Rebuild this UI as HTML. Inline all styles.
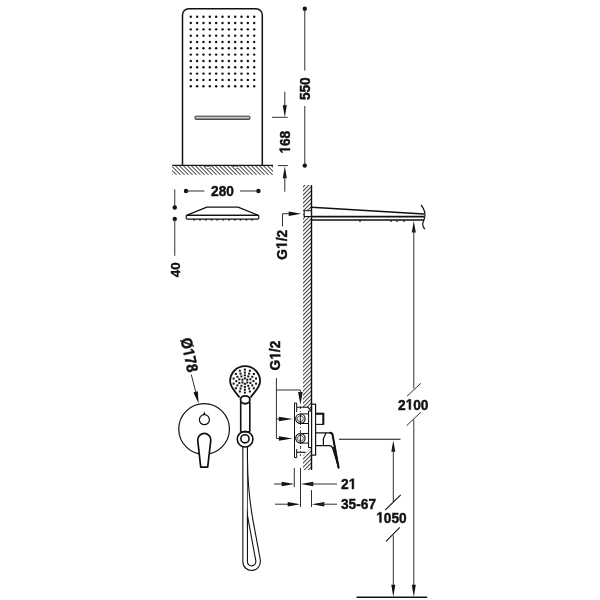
<!DOCTYPE html>
<html><head><meta charset="utf-8"><style>
html,body{margin:0;padding:0;background:#fff;width:600px;height:600px;overflow:hidden}
svg{display:block;will-change:transform}
text{font-family:"Liberation Sans",sans-serif;font-weight:bold;fill:#111}
</style></head><body>
<svg width="600" height="600" viewBox="0 0 600 600">
<rect width="600" height="600" fill="#fff"/>
<defs>
<pattern id="hg" patternUnits="userSpaceOnUse" width="2.83" height="2.83" patternTransform="rotate(-45)"><line x1="0" y1="0" x2="0" y2="2.83" stroke="#000" stroke-width="1.45"/></pattern>
<pattern id="hw" patternUnits="userSpaceOnUse" width="2.83" height="2.83" patternTransform="rotate(45)"><line x1="0" y1="0" x2="0" y2="2.83" stroke="#000" stroke-width="1.45"/></pattern>
<linearGradient id="sg" x1="0" y1="0" x2="0" y2="1"><stop offset="0" stop-color="#fff"/><stop offset="1" stop-color="#888"/></linearGradient>
</defs>
<path d="M182.5,165.5 V15.0 A6.3,6.3 0 0 1 188.8,8.7 H256.0 A6.3,6.3 0 0 1 262.3,15.0 V165.5" fill="none" stroke="#111" stroke-width="1.5"/>
<circle cx="190.80" cy="16.70" r="1.2" fill="#111"/>
<circle cx="190.80" cy="23.02" r="1.2" fill="#111"/>
<circle cx="190.80" cy="29.34" r="1.2" fill="#111"/>
<circle cx="190.80" cy="35.66" r="1.2" fill="#111"/>
<circle cx="190.80" cy="41.98" r="1.2" fill="#111"/>
<circle cx="190.80" cy="48.30" r="1.2" fill="#111"/>
<circle cx="190.80" cy="54.62" r="1.2" fill="#111"/>
<circle cx="190.80" cy="60.94" r="1.2" fill="#111"/>
<circle cx="190.80" cy="67.26" r="1.2" fill="#111"/>
<circle cx="190.80" cy="73.58" r="1.2" fill="#111"/>
<circle cx="190.80" cy="79.90" r="1.2" fill="#111"/>
<circle cx="190.80" cy="86.22" r="1.2" fill="#111"/>
<circle cx="197.14" cy="16.70" r="1.2" fill="#111"/>
<circle cx="197.14" cy="23.02" r="1.2" fill="#111"/>
<circle cx="197.14" cy="29.34" r="1.2" fill="#111"/>
<circle cx="197.14" cy="35.66" r="1.2" fill="#111"/>
<circle cx="197.14" cy="41.98" r="1.2" fill="#111"/>
<circle cx="197.14" cy="48.30" r="1.2" fill="#111"/>
<circle cx="197.14" cy="54.62" r="1.2" fill="#111"/>
<circle cx="197.14" cy="60.94" r="1.2" fill="#111"/>
<circle cx="197.14" cy="67.26" r="1.2" fill="#111"/>
<circle cx="197.14" cy="73.58" r="1.2" fill="#111"/>
<circle cx="197.14" cy="79.90" r="1.2" fill="#111"/>
<circle cx="197.14" cy="86.22" r="1.2" fill="#111"/>
<circle cx="203.48" cy="16.70" r="1.2" fill="#111"/>
<circle cx="203.48" cy="23.02" r="1.2" fill="#111"/>
<circle cx="203.48" cy="29.34" r="1.2" fill="#111"/>
<circle cx="203.48" cy="35.66" r="1.2" fill="#111"/>
<circle cx="203.48" cy="41.98" r="1.2" fill="#111"/>
<circle cx="203.48" cy="48.30" r="1.2" fill="#111"/>
<circle cx="203.48" cy="54.62" r="1.2" fill="#111"/>
<circle cx="203.48" cy="60.94" r="1.2" fill="#111"/>
<circle cx="203.48" cy="67.26" r="1.2" fill="#111"/>
<circle cx="203.48" cy="73.58" r="1.2" fill="#111"/>
<circle cx="203.48" cy="79.90" r="1.2" fill="#111"/>
<circle cx="203.48" cy="86.22" r="1.2" fill="#111"/>
<circle cx="209.82" cy="16.70" r="1.2" fill="#111"/>
<circle cx="209.82" cy="23.02" r="1.2" fill="#111"/>
<circle cx="209.82" cy="29.34" r="1.2" fill="#111"/>
<circle cx="209.82" cy="35.66" r="1.2" fill="#111"/>
<circle cx="209.82" cy="41.98" r="1.2" fill="#111"/>
<circle cx="209.82" cy="48.30" r="1.2" fill="#111"/>
<circle cx="209.82" cy="54.62" r="1.2" fill="#111"/>
<circle cx="209.82" cy="60.94" r="1.2" fill="#111"/>
<circle cx="209.82" cy="67.26" r="1.2" fill="#111"/>
<circle cx="209.82" cy="73.58" r="1.2" fill="#111"/>
<circle cx="209.82" cy="79.90" r="1.2" fill="#111"/>
<circle cx="209.82" cy="86.22" r="1.2" fill="#111"/>
<circle cx="216.16" cy="16.70" r="1.2" fill="#111"/>
<circle cx="216.16" cy="23.02" r="1.2" fill="#111"/>
<circle cx="216.16" cy="29.34" r="1.2" fill="#111"/>
<circle cx="216.16" cy="35.66" r="1.2" fill="#111"/>
<circle cx="216.16" cy="41.98" r="1.2" fill="#111"/>
<circle cx="216.16" cy="48.30" r="1.2" fill="#111"/>
<circle cx="216.16" cy="54.62" r="1.2" fill="#111"/>
<circle cx="216.16" cy="60.94" r="1.2" fill="#111"/>
<circle cx="216.16" cy="67.26" r="1.2" fill="#111"/>
<circle cx="216.16" cy="73.58" r="1.2" fill="#111"/>
<circle cx="216.16" cy="79.90" r="1.2" fill="#111"/>
<circle cx="216.16" cy="86.22" r="1.2" fill="#111"/>
<circle cx="222.50" cy="16.70" r="1.2" fill="#111"/>
<circle cx="222.50" cy="23.02" r="1.2" fill="#111"/>
<circle cx="222.50" cy="29.34" r="1.2" fill="#111"/>
<circle cx="222.50" cy="35.66" r="1.2" fill="#111"/>
<circle cx="222.50" cy="41.98" r="1.2" fill="#111"/>
<circle cx="222.50" cy="48.30" r="1.2" fill="#111"/>
<circle cx="222.50" cy="54.62" r="1.2" fill="#111"/>
<circle cx="222.50" cy="60.94" r="1.2" fill="#111"/>
<circle cx="222.50" cy="67.26" r="1.2" fill="#111"/>
<circle cx="222.50" cy="73.58" r="1.2" fill="#111"/>
<circle cx="222.50" cy="79.90" r="1.2" fill="#111"/>
<circle cx="222.50" cy="86.22" r="1.2" fill="#111"/>
<circle cx="228.84" cy="16.70" r="1.2" fill="#111"/>
<circle cx="228.84" cy="23.02" r="1.2" fill="#111"/>
<circle cx="228.84" cy="29.34" r="1.2" fill="#111"/>
<circle cx="228.84" cy="35.66" r="1.2" fill="#111"/>
<circle cx="228.84" cy="41.98" r="1.2" fill="#111"/>
<circle cx="228.84" cy="48.30" r="1.2" fill="#111"/>
<circle cx="228.84" cy="54.62" r="1.2" fill="#111"/>
<circle cx="228.84" cy="60.94" r="1.2" fill="#111"/>
<circle cx="228.84" cy="67.26" r="1.2" fill="#111"/>
<circle cx="228.84" cy="73.58" r="1.2" fill="#111"/>
<circle cx="228.84" cy="79.90" r="1.2" fill="#111"/>
<circle cx="228.84" cy="86.22" r="1.2" fill="#111"/>
<circle cx="235.18" cy="16.70" r="1.2" fill="#111"/>
<circle cx="235.18" cy="23.02" r="1.2" fill="#111"/>
<circle cx="235.18" cy="29.34" r="1.2" fill="#111"/>
<circle cx="235.18" cy="35.66" r="1.2" fill="#111"/>
<circle cx="235.18" cy="41.98" r="1.2" fill="#111"/>
<circle cx="235.18" cy="48.30" r="1.2" fill="#111"/>
<circle cx="235.18" cy="54.62" r="1.2" fill="#111"/>
<circle cx="235.18" cy="60.94" r="1.2" fill="#111"/>
<circle cx="235.18" cy="67.26" r="1.2" fill="#111"/>
<circle cx="235.18" cy="73.58" r="1.2" fill="#111"/>
<circle cx="235.18" cy="79.90" r="1.2" fill="#111"/>
<circle cx="235.18" cy="86.22" r="1.2" fill="#111"/>
<circle cx="241.52" cy="16.70" r="1.2" fill="#111"/>
<circle cx="241.52" cy="23.02" r="1.2" fill="#111"/>
<circle cx="241.52" cy="29.34" r="1.2" fill="#111"/>
<circle cx="241.52" cy="35.66" r="1.2" fill="#111"/>
<circle cx="241.52" cy="41.98" r="1.2" fill="#111"/>
<circle cx="241.52" cy="48.30" r="1.2" fill="#111"/>
<circle cx="241.52" cy="54.62" r="1.2" fill="#111"/>
<circle cx="241.52" cy="60.94" r="1.2" fill="#111"/>
<circle cx="241.52" cy="67.26" r="1.2" fill="#111"/>
<circle cx="241.52" cy="73.58" r="1.2" fill="#111"/>
<circle cx="241.52" cy="79.90" r="1.2" fill="#111"/>
<circle cx="241.52" cy="86.22" r="1.2" fill="#111"/>
<circle cx="247.86" cy="16.70" r="1.2" fill="#111"/>
<circle cx="247.86" cy="23.02" r="1.2" fill="#111"/>
<circle cx="247.86" cy="29.34" r="1.2" fill="#111"/>
<circle cx="247.86" cy="35.66" r="1.2" fill="#111"/>
<circle cx="247.86" cy="41.98" r="1.2" fill="#111"/>
<circle cx="247.86" cy="48.30" r="1.2" fill="#111"/>
<circle cx="247.86" cy="54.62" r="1.2" fill="#111"/>
<circle cx="247.86" cy="60.94" r="1.2" fill="#111"/>
<circle cx="247.86" cy="67.26" r="1.2" fill="#111"/>
<circle cx="247.86" cy="73.58" r="1.2" fill="#111"/>
<circle cx="247.86" cy="79.90" r="1.2" fill="#111"/>
<circle cx="247.86" cy="86.22" r="1.2" fill="#111"/>
<circle cx="254.20" cy="16.70" r="1.2" fill="#111"/>
<circle cx="254.20" cy="23.02" r="1.2" fill="#111"/>
<circle cx="254.20" cy="29.34" r="1.2" fill="#111"/>
<circle cx="254.20" cy="35.66" r="1.2" fill="#111"/>
<circle cx="254.20" cy="41.98" r="1.2" fill="#111"/>
<circle cx="254.20" cy="48.30" r="1.2" fill="#111"/>
<circle cx="254.20" cy="54.62" r="1.2" fill="#111"/>
<circle cx="254.20" cy="60.94" r="1.2" fill="#111"/>
<circle cx="254.20" cy="67.26" r="1.2" fill="#111"/>
<circle cx="254.20" cy="73.58" r="1.2" fill="#111"/>
<circle cx="254.20" cy="79.90" r="1.2" fill="#111"/>
<circle cx="254.20" cy="86.22" r="1.2" fill="#111"/>
<rect x="195" y="116.2" width="55" height="3.1" rx="0.9" fill="url(#sg)" stroke="#111" stroke-width="0.9"/>
<g transform="translate(1,0)"><rect x="171.2" y="165.8" width="100.8" height="9" fill="url(#hg)"/></g>
<rect x="205.4" y="166.4" width="4.8" height="2.4" fill="#fff" stroke="#555" stroke-width="0.6"/>
<rect x="233.3" y="166.4" width="4.6" height="2.4" fill="#fff" stroke="#555" stroke-width="0.6"/>
<line x1="172.2" y1="165.3" x2="273" y2="165.3" stroke="#1a1a1a" stroke-width="1.2" />
<circle cx="304.8" cy="8.7" r="2.2" fill="#111"/>
<line x1="304.8" y1="8.7" x2="304.8" y2="70.6" stroke="#303030" stroke-width="1" />
<line x1="304.8" y1="106" x2="304.8" y2="165.6" stroke="#303030" stroke-width="1" />
<circle cx="304.8" cy="165.6" r="2.2" fill="#111"/>
<g transform="translate(310.3,88.7) rotate(-90) scale(1,1.1)"><text text-anchor="middle" font-size="13.7" stroke="#111" stroke-width="0.4">550</text></g>
<line x1="284.8" y1="91.7" x2="284.8" y2="110" stroke="#303030" stroke-width="1" />
<polygon points="284.8,117.2 282.80,105.20 286.80,105.20" fill="#111"/>
<line x1="272" y1="117.3" x2="287.7" y2="117.3" stroke="#303030" stroke-width="1" />
<g transform="translate(290.0,142.2) rotate(-90) scale(1,1.1)"><text text-anchor="middle" font-size="13.7" stroke="#111" stroke-width="0.4"> 68</text><path transform="translate(-11.429,0) scale(0.00669,-0.00669)" d="M500,0 V1170 L162,959 V1180 L515,1409 H781 V0 Z" fill="#111" stroke="#111" stroke-width="59.8"/></g>
<line x1="277.9" y1="165.6" x2="287.9" y2="165.6" stroke="#303030" stroke-width="1" />
<polygon points="284.8,166.2 286.80,178.20 282.80,178.20" fill="#111"/>
<line x1="284.8" y1="175" x2="284.8" y2="191.7" stroke="#303030" stroke-width="1" />
<circle cx="186" cy="191" r="2.2" fill="#111"/>
<line x1="186" y1="191" x2="204.4" y2="191" stroke="#303030" stroke-width="1" />
<circle cx="258.4" cy="191" r="2.2" fill="#111"/>
<line x1="240" y1="191" x2="258.4" y2="191" stroke="#303030" stroke-width="1" />
<g transform="translate(222.5,196) rotate(0) scale(1,1.1)"><text text-anchor="middle" font-size="13.7" stroke="#111" stroke-width="0.4">280</text></g>
<path d="M186.4,215.4 L206.9,207.1 H238.1 L258.6,215.4 Z" fill="#fff" stroke="#111" stroke-width="1.2" stroke-linejoin="round"/>
<rect x="186.2" y="215.4" width="72.6" height="3.8" rx="1.2" fill="#fff" stroke="#111" stroke-width="1.2"/>
<rect x="193.30" y="219.3" width="1.8" height="1.2" fill="#111"/>
<rect x="199.10" y="219.3" width="1.8" height="1.2" fill="#111"/>
<rect x="204.90" y="219.3" width="1.8" height="1.2" fill="#111"/>
<rect x="210.70" y="219.3" width="1.8" height="1.2" fill="#111"/>
<rect x="216.50" y="219.3" width="1.8" height="1.2" fill="#111"/>
<rect x="222.30" y="219.3" width="1.8" height="1.2" fill="#111"/>
<rect x="228.10" y="219.3" width="1.8" height="1.2" fill="#111"/>
<rect x="233.90" y="219.3" width="1.8" height="1.2" fill="#111"/>
<rect x="239.70" y="219.3" width="1.8" height="1.2" fill="#111"/>
<rect x="245.50" y="219.3" width="1.8" height="1.2" fill="#111"/>
<rect x="251.30" y="219.3" width="1.8" height="1.2" fill="#111"/>
<line x1="174.75" y1="189.3" x2="174.75" y2="207.5" stroke="#303030" stroke-width="1" />
<circle cx="174.75" cy="207.5" r="2.2" fill="#111"/>
<circle cx="174.75" cy="218.9" r="2.2" fill="#111"/>
<line x1="174.75" y1="218.9" x2="174.75" y2="255.8" stroke="#303030" stroke-width="1" />
<g transform="translate(180.2,269.8) rotate(-90) scale(1,0.97)"><text text-anchor="middle" font-size="13.4" stroke="#111" stroke-width="0.4">40</text></g>
<g transform="translate(0,1.1)"><rect x="303" y="183.9" width="8.4" height="285" fill="url(#hw)"/></g>
<path d="M296.7,407.3 H308 L311.4,411 V447.5 L303,455.5 V407.3 Z" fill="#fff"/>
<line x1="311.5" y1="185" x2="311.5" y2="470" stroke="#111" stroke-width="1.4" />
<path d="M311.5,207.3 L424,214" stroke="#111" stroke-width="1.4" fill="none"/>
<line x1="311.5" y1="216.6" x2="424" y2="216.6" stroke="#111" stroke-width="1.6" />
<line x1="311.5" y1="220" x2="424" y2="220" stroke="#111" stroke-width="1.6" />
<rect x="304.2" y="210.7" width="7.1" height="5.8" fill="#fff" stroke="#111" stroke-width="1"/>
<path d="M421,205 Q427,212 424,220 Q421,226 425,229" fill="none" stroke="#111" stroke-width="1.2"/>
<rect x="359.1" y="220.5" width="1.8" height="1.2" fill="#111"/>
<rect x="390.1" y="220.5" width="1.8" height="1.2" fill="#111"/>
<rect x="396.1" y="220.5" width="1.8" height="1.2" fill="#111"/>
<rect x="403.1" y="220.5" width="1.8" height="1.2" fill="#111"/>
<polygon points="301.2,213.7 288.70,216.00 288.70,211.40" fill="#111"/>
<line x1="282.5" y1="213.7" x2="290" y2="213.7" stroke="#303030" stroke-width="1" />
<line x1="282.5" y1="213.7" x2="282.5" y2="226.4" stroke="#303030" stroke-width="1" />
<g transform="translate(286.8,244.8) rotate(-90) scale(1,1.1)"><text text-anchor="middle" font-size="13.7" stroke="#111" stroke-width="0.4">G /2</text><path transform="translate(-4.194,0) scale(0.00669,-0.00669)" d="M500,0 V1170 L162,959 V1180 L515,1409 H781 V0 Z" fill="#111" stroke="#111" stroke-width="59.8"/></g>
<polygon points="413.8,221 415.80,232.50 411.80,232.50" fill="#111"/>
<line x1="413.8" y1="230" x2="413.8" y2="388.7" stroke="#303030" stroke-width="1" />
<line x1="407" y1="396.3" x2="420.7" y2="383.3" stroke="#303030" stroke-width="1" />
<g transform="translate(413.2,409.6) rotate(0) scale(1,1.1)"><text text-anchor="middle" font-size="13.7" stroke="#111" stroke-width="0.4">2 00</text><path transform="translate(-7.619,0) scale(0.00669,-0.00669)" d="M500,0 V1170 L162,959 V1180 L515,1409 H781 V0 Z" fill="#111" stroke="#111" stroke-width="59.8"/></g>
<line x1="406.7" y1="425.6" x2="420.7" y2="412.3" stroke="#303030" stroke-width="1" />
<line x1="413.8" y1="419.5" x2="413.8" y2="590" stroke="#303030" stroke-width="1" />
<polygon points="413.8,597 411.80,584.70 415.80,584.70" fill="#111"/>
<line x1="339" y1="439.3" x2="400.5" y2="439.3" stroke="#111" stroke-width="1.1" />
<polygon points="393.3,440.5 395.30,451.80 391.30,451.80" fill="#111"/>
<line x1="393.3" y1="448" x2="393.3" y2="502" stroke="#303030" stroke-width="1" />
<line x1="385.1" y1="510.2" x2="400.7" y2="494.8" stroke="#111" stroke-width="1.1" />
<g transform="translate(391.4,522.6) rotate(0) scale(1,1.1)"><text text-anchor="middle" font-size="13.7" stroke="#111" stroke-width="0.4"> 050</text><path transform="translate(-15.239,0) scale(0.00669,-0.00669)" d="M500,0 V1170 L162,959 V1180 L515,1409 H781 V0 Z" fill="#111" stroke="#111" stroke-width="59.8"/></g>
<line x1="386" y1="541.4" x2="399.8" y2="527.4" stroke="#111" stroke-width="1.1" />
<line x1="393.3" y1="535.3" x2="393.3" y2="590" stroke="#303030" stroke-width="1" />
<polygon points="393.3,597 391.30,584.70 395.30,584.70" fill="#111"/>
<line x1="356.5" y1="597.3" x2="427.2" y2="597.3" stroke="#111" stroke-width="1.5" />
<line x1="294.3" y1="468" x2="294.3" y2="487" stroke="#303030" stroke-width="1" />
<line x1="300.5" y1="468" x2="300.5" y2="507" stroke="#303030" stroke-width="1" />
<line x1="311.5" y1="490" x2="311.5" y2="507" stroke="#303030" stroke-width="1" />
<line x1="274" y1="484" x2="285" y2="484" stroke="#303030" stroke-width="1" />
<polygon points="294.2,484 281.70,486.20 281.70,481.80" fill="#111"/>
<polygon points="300.8,484 313.30,481.80 313.30,486.20" fill="#111"/>
<line x1="310" y1="484" x2="337" y2="484" stroke="#303030" stroke-width="1" />
<g transform="translate(341,489) rotate(0) scale(1,1.1)"><text text-anchor="start" font-size="13.7" stroke="#111" stroke-width="0.4">2 </text><path transform="translate(7.619,0) scale(0.00669,-0.00669)" d="M500,0 V1170 L162,959 V1180 L515,1409 H781 V0 Z" fill="#111" stroke="#111" stroke-width="59.8"/></g>
<line x1="275" y1="504.2" x2="290" y2="504.2" stroke="#303030" stroke-width="1" />
<polygon points="300.2,504.2 287.70,506.40 287.70,502.00" fill="#111"/>
<polygon points="311.8,504.2 324.30,502.00 324.30,506.40" fill="#111"/>
<line x1="320" y1="504.2" x2="337" y2="504.2" stroke="#303030" stroke-width="1" />
<g transform="translate(341,509) rotate(0) scale(1,1.1)"><text text-anchor="start" font-size="13.7" stroke="#111" stroke-width="0.4">35-67</text></g>
<g transform="translate(280.3,355.6) rotate(-90) scale(1,1.1)"><text text-anchor="middle" font-size="13.7" stroke="#111" stroke-width="0.4">G /2</text><path transform="translate(-4.194,0) scale(0.00669,-0.00669)" d="M500,0 V1170 L162,959 V1180 L515,1409 H781 V0 Z" fill="#111" stroke="#111" stroke-width="59.8"/></g>
<line x1="276.4" y1="378" x2="276.4" y2="438.4" stroke="#303030" stroke-width="1" />
<line x1="276.4" y1="390" x2="300.4" y2="390" stroke="#303030" stroke-width="1" />
<polygon points="300.4,404.7 298.10,392.00 302.70,392.00" fill="#111"/>
<line x1="300.4" y1="390" x2="300.4" y2="395" stroke="#303030" stroke-width="1" />
<line x1="276.4" y1="419" x2="285" y2="419" stroke="#303030" stroke-width="1" />
<polygon points="292.5,419 278.90,421.30 278.90,416.70" fill="#111"/>
<line x1="276.4" y1="438.5" x2="285" y2="438.5" stroke="#303030" stroke-width="1" />
<polygon points="292.5,438.5 278.90,440.80 278.90,436.20" fill="#111"/>
<path d="M296.7,412 V403 H294.5 V457.6 H296.7 V449" fill="#fff" stroke="#111" stroke-width="1"/>
<path d="M296.7,407.3 H308 L311.4,411 M308.6,411 V447.5" fill="none" stroke="#111" stroke-width="1.1"/>
<line x1="296.7" y1="452.3" x2="305.5" y2="452.3" stroke="#111" stroke-width="1.1" />
<path d="M300.4,413.9 H308.7 M300.4,423.5 H308.7" stroke="#111" stroke-width="1" fill="none"/>
<circle cx="300.4" cy="418.7" r="4.7" fill="#fff" stroke="#111" stroke-width="1.2"/>
<circle cx="300.4" cy="418.7" r="3.0" fill="none" stroke="#444" stroke-width="0.9"/>
<path d="M300.4,414.2 V423.2" stroke="#111" stroke-width="0.9"/>
<path d="M300.4,433.5 H308.7 M300.4,443.1 H308.7" stroke="#111" stroke-width="1" fill="none"/>
<circle cx="300.4" cy="438.3" r="4.7" fill="#fff" stroke="#111" stroke-width="1.2"/>
<circle cx="300.4" cy="438.3" r="3.0" fill="none" stroke="#444" stroke-width="0.9"/>
<path d="M300.4,433.8 V442.8" stroke="#111" stroke-width="0.9"/>
<line x1="300.4" y1="406" x2="300.4" y2="456" stroke="#111" stroke-width="0.8" stroke-dasharray="3,2,1,2"/>
<rect x="308.6" y="411" width="3.0" height="36.5" fill="#fff" stroke="#111" stroke-width="1"/>
<rect x="311.6" y="404.2" width="4.0" height="50.9" fill="#fff" stroke="#111" stroke-width="1.2"/>
<rect x="315.6" y="413.5" width="7.9" height="10.9" fill="#fff" stroke="#111" stroke-width="1.1"/>
<path d="M315.6,413.7 H323.3 V424.4" fill="none" stroke="#111" stroke-width="2.0"/>
<path d="M315.6,432.8 H326.1 L330.2,432.8 Q332.2,432.8 332.6,435 L338.6,467.7 L332.75,448.5 Q332,445.7 329.5,445.6 H315.6 Z" fill="#fff" stroke="#111" stroke-width="1.2" stroke-linejoin="round"/>
<path d="M323.4,445.5 V438.7 L326.1,432.8" fill="none" stroke="#111" stroke-width="1.2"/>
<path d="M330.2,432.8 Q332.2,432.8 332.6,435 L338.6,467.7" fill="none" stroke="#111" stroke-width="2.0" stroke-linecap="round"/>
<path d="M333.3,447 L338.4,467" fill="none" stroke="#111" stroke-width="1.1"/>
<circle cx="204.1" cy="429.0" r="25.35" fill="#fff" stroke="#111" stroke-width="1.2"/>
<circle cx="204.4" cy="419.7" r="5.0" fill="#fff" stroke="#111" stroke-width="1.2"/>
<path d="M202.8,415 L204.3,411.6 L205.8,415 Z" fill="#111"/>
<path d="M197.7,440 A6.55,6.55 0 0 1 210.8,440 L207.7,467.2 H200.7 Z" fill="#fff" stroke="#111" stroke-width="1.7" stroke-linejoin="round"/>
<g transform="translate(184.1,356.0) rotate(78) scale(1,1.1)"><text text-anchor="middle" font-size="14.3" stroke="#111" stroke-width="0.4">Ø 78</text><path transform="translate(-6.368,0) scale(0.00698,-0.00698)" d="M500,0 V1170 L162,959 V1180 L515,1409 H781 V0 Z" fill="#111" stroke="#111" stroke-width="57.3"/></g>
<line x1="191.3" y1="374.7" x2="196.0" y2="393" stroke="#303030" stroke-width="1" />
<polygon points="198.6,403.5 193.41,392.44 197.86,391.30" fill="#111"/>
<path d="M245.15,447 V561.5 C245.15,570.5 258.8,570.5 258.1,560.5 L250.6,520 C248.6,508 245.4,492 245.2,460" fill="none" stroke="#111" stroke-width="5.7" stroke-linejoin="round"/>
<path d="M245.15,447 V561.5 C245.15,570.5 258.8,570.5 258.1,560.5 L250.6,520 C248.6,508 245.4,492 245.2,460" fill="none" stroke="#fff" stroke-width="3.5" stroke-linejoin="round"/>
<path d="M247.45,447 V530" stroke="#111" stroke-width="1.0" stroke-opacity="0.8" fill="none"/>
<path d="M239.6,397.6 C236,392 230.1,388 230.1,381.1 A15,15 0 1 1 260.1,381.1 C260.1,388 254,392 250.5,397.6" fill="#fff" stroke="#111" stroke-width="1.8"/>
<path d="M240.7,402 V431.7 M249.8,402 V431.7" stroke="#111" stroke-width="1.6" fill="none"/>
<ellipse cx="245.2" cy="399.8" rx="4.7" ry="3.95" fill="#fff" stroke="#111" stroke-width="1.8"/>
<rect x="243.85" y="377.35" width="2.0" height="2.0" fill="#111"/>
<rect x="246.23" y="378.73" width="2.0" height="2.0" fill="#111"/>
<rect x="246.23" y="381.48" width="2.0" height="2.0" fill="#111"/>
<rect x="243.85" y="382.85" width="2.0" height="2.0" fill="#111"/>
<rect x="241.47" y="381.48" width="2.0" height="2.0" fill="#111"/>
<rect x="241.47" y="378.73" width="2.0" height="2.0" fill="#111"/>
<rect x="243.85" y="374.30" width="2.0" height="2.0" fill="#111"/>
<rect x="247.26" y="375.41" width="2.0" height="2.0" fill="#111"/>
<rect x="249.37" y="378.31" width="2.0" height="2.0" fill="#111"/>
<rect x="249.37" y="381.89" width="2.0" height="2.0" fill="#111"/>
<rect x="247.26" y="384.79" width="2.0" height="2.0" fill="#111"/>
<rect x="243.85" y="385.90" width="2.0" height="2.0" fill="#111"/>
<rect x="240.44" y="384.79" width="2.0" height="2.0" fill="#111"/>
<rect x="238.33" y="381.89" width="2.0" height="2.0" fill="#111"/>
<rect x="238.33" y="378.31" width="2.0" height="2.0" fill="#111"/>
<rect x="240.44" y="375.41" width="2.0" height="2.0" fill="#111"/>
<rect x="243.85" y="371.50" width="2.0" height="2.0" fill="#111"/>
<rect x="248.15" y="372.65" width="2.0" height="2.0" fill="#111"/>
<rect x="251.30" y="375.80" width="2.0" height="2.0" fill="#111"/>
<rect x="252.45" y="380.10" width="2.0" height="2.0" fill="#111"/>
<rect x="251.30" y="384.40" width="2.0" height="2.0" fill="#111"/>
<rect x="248.15" y="387.55" width="2.0" height="2.0" fill="#111"/>
<rect x="243.85" y="388.70" width="2.0" height="2.0" fill="#111"/>
<rect x="239.55" y="387.55" width="2.0" height="2.0" fill="#111"/>
<rect x="236.40" y="384.40" width="2.0" height="2.0" fill="#111"/>
<rect x="235.25" y="380.10" width="2.0" height="2.0" fill="#111"/>
<rect x="236.40" y="375.80" width="2.0" height="2.0" fill="#111"/>
<rect x="239.55" y="372.65" width="2.0" height="2.0" fill="#111"/>
<rect x="243.85" y="368.60" width="2.0" height="2.0" fill="#111"/>
<rect x="248.84" y="369.74" width="2.0" height="2.0" fill="#111"/>
<rect x="252.84" y="372.93" width="2.0" height="2.0" fill="#111"/>
<rect x="255.06" y="377.54" width="2.0" height="2.0" fill="#111"/>
<rect x="255.06" y="382.66" width="2.0" height="2.0" fill="#111"/>
<rect x="252.84" y="387.27" width="2.0" height="2.0" fill="#111"/>
<rect x="248.84" y="390.46" width="2.0" height="2.0" fill="#111"/>
<rect x="243.85" y="391.60" width="2.0" height="2.0" fill="#111"/>
<rect x="238.86" y="390.46" width="2.0" height="2.0" fill="#111"/>
<rect x="234.86" y="387.27" width="2.0" height="2.0" fill="#111"/>
<rect x="232.64" y="382.66" width="2.0" height="2.0" fill="#111"/>
<rect x="232.64" y="377.54" width="2.0" height="2.0" fill="#111"/>
<rect x="234.86" y="372.93" width="2.0" height="2.0" fill="#111"/>
<rect x="238.86" y="369.74" width="2.0" height="2.0" fill="#111"/>
<circle cx="245.1" cy="439.2" r="7.8" fill="#fff" stroke="#111" stroke-width="1.6"/>
<circle cx="244.95" cy="438.8" r="4.1" fill="#fff" stroke="#111" stroke-width="1.6"/>
<path d="M240.7,431.8 H249.8" stroke="#111" stroke-width="1.6"/>
</svg></body></html>
